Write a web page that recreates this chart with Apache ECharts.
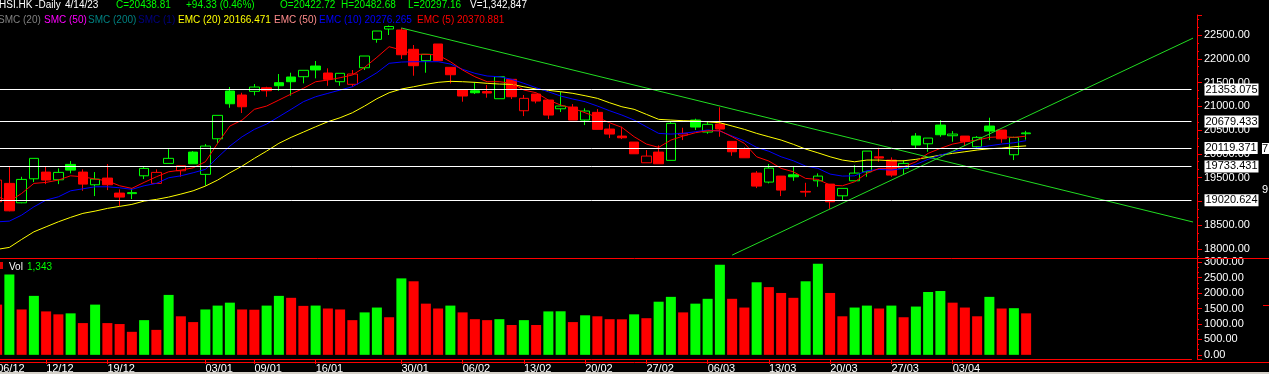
<!DOCTYPE html>
<html>
<head>
<meta charset="utf-8">
<script src="https://cdn.jsdelivr.net/npm/echarts@6/dist/echarts.min.js"></script>
<style>
html,body{margin:0;padding:0;background:#000;overflow:hidden;width:1269px;height:374px;position:relative;}
#c{position:absolute;left:-9px;top:0;width:1278px;height:374px;}
</style>
</head>
<body>
<div id="c"></div>
<script>
// ---------------- data ----------------
const dates = ['06/12','07/12','08/12','09/12','12/12','13/12','14/12','15/12','16/12','19/12','20/12','21/12','22/12','23/12','28/12','29/12','30/12',
  '03/01','04/01','05/01','06/01','09/01','10/01','11/01','12/01','13/01','16/01','17/01','18/01','19/01','20/01','26/01','27/01','30/01','31/01',
  '01/02','02/02','03/02','06/02','07/02','08/02','09/02','10/02','13/02','14/02','15/02','16/02','17/02','20/02','21/02','22/02','23/02','24/02','27/02','28/02',
  '01/03','02/03','03/03','06/03','07/03','08/03','09/03','10/03','13/03','14/03','15/03','16/03','17/03','20/03','21/03','22/03','23/03','24/03','27/03','28/03','29/03','30/03','31/03',
  '03/04','04/04','06/04','11/04','12/04','13/04','14/04'];
const futureSlots = ['+1','+2','+3','+4','+5','+6','+7','+8','+9','+10','+11','+12','+13'];
const labelDates = ['06/12','12/12','19/12','03/01','09/01','16/01','30/01','06/02','13/02','20/02','27/02','06/03','13/03','20/03','27/03','03/04'];

const openP = [18990,19377,18969,19474,19615,19453,19777,19615,19348,19489,19173,19162,19537,19377,19798,19643,20036,19567,20316,21321,21237,21314,21390,21496,21616,21622,21847,21700,21517,21462,21811,22409,22626,22605,22199,21959,22311,21820,21342,21327,21310,21159,21567,20906,21258,21131,20948,20984,20710,20872,20521,20373,20247,19811,20036,19862,20394,20710,20458,20626,20262,20093,19594,19405,19531,19558,19209,19432,19362,19116,19432,19621,19937,19868,19693,20373,20211,20605,20380,20373,20148,20584,20500,19980,20422.72];
const closeP = [19447,18800,19461,19904,19447,19609,19657,19362,19468,19348,19089,19183,19693,19609,19904,19748,19790,20163,20809,21053,20990,21405,21327,21432,21517,21757,21765,21567,21694,21679,22058,22584,22679,22085,21854,22094,21959,21664,21216,21285,21279,21622,21201,21167,21110,20815,21005,20710,20900,20514,20415,20337,20000,19952,19790,20641,20430,20563,20620,20521,20043,19916,19320,19699,19236,19516,19194,19531,18990,19272,19594,20057,19910,19552,19798,20184,20331,20401,20415,20262,20346,20478,20316,20344.48,20438.81];
const highP = [19480,19727,19516,19904,19727,19693,19847,19672,19615,19784,19251,19272,19741,19672,20099,19748,20057,20205,20809,21405,21285,21468,21411,21679,21706,21757,21953,21799,21694,21763,22058,22584,22700,22650,22289,22094,22311,21820,21342,21504,21447,21622,21567,21237,21258,21131,21306,21047,20957,20942,20620,20569,20247,20078,20177,20683,20548,20738,20674,20978,20262,20135,19636,19784,19531,19727,19390,19588,19362,19272,19763,20057,20127,19925,19868,20436,20331,20710,20478,20373,20373,20759,20500,20360,20482.68];
const lowP = [18960,18790,18960,19405,19362,19362,19588,19221,19110,19236,18899,19047,19468,19377,19798,19516,19790,19327,20220,20969,20858,21230,21201,21327,21222,21483,21588,21432,21432,21411,21763,22338,22500,21995,21643,21706,21959,21483,21096,21258,21180,21159,21152,20794,21062,20731,20879,20710,20605,20514,20331,20310,20000,19811,19790,19862,20289,20500,20422,20359,19958,19916,19278,19377,19110,19432,19095,19306,18842,19026,19432,19516,19832,19516,19573,20106,20043,20359,20253,20163,20114,20289,20232,19868,20297.16];
// volume in thousands
const volumeK = [1626,2601,1469,1909,1406,1311,1343,1028,1626,1028,997,745,1123,808,1940,1248,1060,1469,1594,1689,1469,1460,1594,1909,1846,1585,1595,1500,1469,1123,1374,1531,1217,2475,2381,1657,1500,1594,1374,1154,1123,1154,965,1123,965,1406,1410,1060,1280,1248,1154,1150,1311,1186,1720,1877,1374,1657,1814,2915,1814,1531,2349,2192,2003,1846,2381,2947,2003,1248,1531,1594,1500,1594,1217,1563,2035,2066,1689,1531,1248,1877,1500,1510,1342.847];

const ema5 = [19100,19000,19166,19377,19398,19447,19537,19516,19468,19432,19327,19272,19398,19516,19621,19657,19705,19832,20220,20584,20710,20936,21005,21131,21258,21378,21516,21552,21601,21658,21820,22030,22254,22184,22094,22094,22079,21938,21763,21622,21517,21517,21483,21342,21285,21131,21026,20957,20864,20767,20653,20556,20359,20205,20135,20289,20373,20443,20485,20485,20359,20220,19937,19847,19693,19621,19482,19461,19341,19327,19411,19588,19693,19693,19727,19832,20009,20114,20205,20253,20289,20346,20359,20346,20370.881];
const ema10 = [18568,18583,18709,18884,19026,19095,19221,19263,19306,19306,19285,19251,19327,19377,19495,19537,19601,19672,19924,20163,20359,20514,20626,20780,20936,21096,21201,21272,21342,21411,21552,21706,21904,21931,21938,21938,21938,21889,21778,21694,21637,21622,21567,21483,21390,21306,21216,21152,21096,21005,20906,20815,20710,20569,20430,20415,20430,20464,20500,20479,20373,20274,20135,20053,19937,19853,19741,19693,19573,19531,19537,19643,19672,19657,19693,19777,19883,19973,20043,20093,20127,20169,20205,20232,20276.265];
const ema20 = [17988,18030,18198,18358,18464,18569,18662,18746,18794,18851,18893,18935,19005,19040,19089,19152,19221,19320,19447,19601,19741,19904,20057,20220,20346,20457,20569,20675,20759,20864,21005,21159,21285,21363,21411,21462,21504,21525,21517,21504,21483,21468,21462,21411,21363,21336,21306,21272,21222,21167,21074,20990,20936,20830,20725,20710,20696,20689,20674,20653,20584,20514,20430,20359,20289,20199,20099,20021,19937,19868,19832,19868,19868,19853,19853,19883,19924,19973,20009,20043,20079,20106,20120,20148,20166.471];

const levelLines = [21353.075, 20679.433, 20119.371, 19733.431, 19020.624];
// trend lines: [category position, price]
const trendDown = [[33, 22648], [97.82, 18552]];
const trendUp = [[60, 17868], [97.82, 22458]];
const headerDate = '4/14/23';

// ---------------- styling ----------------
const GREEN = '#00ff00', RED = '#ff0000', AXIS = '#ff0000';
const FONT = '"Liberation Sans", Arial, sans-serif';
const SX = 9; // chart canvas starts 9px left of the page
const cats = dates.concat(futureSlots);
const last = closeP.length - 1;

const candleData = closeP.map((c, i) => {
  const up = i > 0 && c > closeP[i - 1];
  const col = up ? GREEN : RED;
  const hollow = c > openP[i];
  return {
    value: [openP[i], c, lowP[i], highP[i]],
    itemStyle: { color: hollow ? '#000' : col, color0: hollow ? '#000' : col, borderColor: col, borderColor0: col, borderWidth: 1 }
  };
});
const volData = volumeK.map((v, i) => ({
  value: v, itemStyle: { color: (i > 0 && v > volumeK[i - 1]) ? GREEN : RED }
}));
const labelSet = new Set(labelDates.map(d => dates.indexOf(d)));

const fmtNum = (n) => Math.round(n).toString().replace(/\B(?=(\d{3})+(?!\d))/g, ',');
const chg = closeP[last] - closeP[last - 1];
const pct = chg / closeP[last - 1] * 100;

function txt(x, y, text, fill, size) {
  return { type: 'text', x: x + SX, y: y, silent: true, z: 100,
    style: { text: text, fill: fill, font: (size || 10) + 'px ' + FONT, verticalAlign: 'top', align: 'left' } };
}
function hline(x1, x2, y) {
  return { type: 'line', silent: true, z: 50, shape: { x1: x1 + SX, y1: y, x2: x2 + SX, y2: y }, style: { stroke: AXIS, lineWidth: 1 } };
}

const bandW = 12.25;
const gridW = bandW * cats.length;
const axisX = 1197 + SX;
const yOff = axisX - gridW;

const chart = echarts.init(document.getElementById('c'), null, { renderer: 'canvas' });
chart.setOption({
  backgroundColor: '#000',
  animation: false,
  grid: [
    { left: 0, top: 15, width: gridW, height: 243 },
    { left: 0, top: 258, width: gridW, height: 104 }
  ],
  xAxis: [
    { gridIndex: 0, type: 'category', data: cats, boundaryGap: true, show: false },
    { gridIndex: 1, type: 'category', data: cats, boundaryGap: true,
      axisLine: { show: true, onZero: false, lineStyle: { color: AXIS } },
      axisTick: { show: true, alignWithLabel: true, length: 5, interval: (i) => labelSet.has(i), lineStyle: { color: AXIS } },
      axisLabel: { show: true, interval: (i) => labelSet.has(i), color: '#fff', fontFamily: FONT, fontSize: 11, align: 'left', margin: 4 },
      splitLine: { show: false } },
    { gridIndex: 0, type: 'value', min: -0.5, max: cats.length - 0.5, show: false }
  ],
  yAxis: [
    { gridIndex: 0, type: 'value', position: 'right', offset: yOff, min: 17807, max: 22921,
      splitNumber: 10, minInterval: 500, maxInterval: 500,
      axisLine: { show: true, onZero: false, lineStyle: { color: AXIS } },
      axisTick: { show: true, length: 5, lineStyle: { color: AXIS } },
      minorTick: { show: true, splitNumber: 3, length: 2, lineStyle: { color: AXIS } },
      axisLabel: { color: '#fff', fontFamily: FONT, fontSize: 11, margin: 7,
        formatter: (v) => (Math.abs(v % 500) < 1e-6 ? v.toFixed(2) : '') },
      splitLine: { show: false } },
    { gridIndex: 1, type: 'value', position: 'right', offset: yOff, min: -135, max: 3135,
      splitNumber: 6, minInterval: 500, maxInterval: 500,
      axisLine: { show: true, onZero: false, lineStyle: { color: AXIS } },
      axisTick: { show: true, length: 5, lineStyle: { color: AXIS } },
      minorTick: { show: true, splitNumber: 3, length: 2, lineStyle: { color: AXIS } },
      axisLabel: { color: '#fff', fontFamily: FONT, fontSize: 11, margin: 7,
        formatter: (v) => (v >= 0 && Math.abs(v % 500) < 1e-6 ? v.toFixed(2) : '') },
      splitLine: { show: false } }
  ],
  series: [
    { type: 'candlestick', name: 'HSI', xAxisIndex: 0, yAxisIndex: 0, barWidth: 10, data: candleData,
      markLine: {
        silent: true, symbol: ['none', 'none'], animation: false, z: 6, precision: 3,
        lineStyle: { color: '#fff', width: 1, type: 'solid' },
        label: { show: true, position: 'end', distance: 13, color: '#000', backgroundColor: '#fff',
          fontFamily: FONT, fontSize: 11, padding: [1, 1, 0, 1], formatter: (p) => Number(p.value).toFixed(3) },
        emphasis: { disabled: true },
        data: levelLines.map(v => ({ yAxis: v })).concat([
          { yAxis: closeP[last], lineStyle: { opacity: 0 },
            label: { backgroundColor: '#0000ff', color: GREEN, distance: 12, formatter: (p) => Number(p.value).toFixed(2) } }
        ])
      } },
    { type: 'line', name: 'EMC (20)', xAxisIndex: 0, yAxisIndex: 0, data: ema20, symbol: 'none', lineStyle: { color: '#ffff00', width: 1 }, silent: true },
    { type: 'line', name: 'EMC (10)', xAxisIndex: 0, yAxisIndex: 0, data: ema10, symbol: 'none', lineStyle: { color: '#0000ff', width: 1 }, silent: true },
    { type: 'line', name: 'EMC (5)', xAxisIndex: 0, yAxisIndex: 0, data: ema5, symbol: 'none', lineStyle: { color: '#ff0000', width: 1 }, silent: true },
    { type: 'line', name: 'trendDown', xAxisIndex: 2, yAxisIndex: 0, data: trendDown, symbol: 'none', clip: false, lineStyle: { color: '#22dd22', width: 1 }, silent: true, z: 4 },
    { type: 'line', name: 'trendUp', xAxisIndex: 2, yAxisIndex: 0, data: trendUp, symbol: 'none', clip: false, lineStyle: { color: '#22dd22', width: 1 }, silent: true, z: 4 },
    { type: 'bar', name: 'Vol', xAxisIndex: 1, yAxisIndex: 1, barWidth: 10, data: volData, silent: true }
  ],
  graphic: [
    hline(0, 1269, 258.5),
    hline(0, 1269, 362.5),
    hline(1263, 1269, 305.5),
    { type: 'rect', silent: true, z: 50, shape: { x: SX, y: 372, width: 1269, height: 2 }, style: { fill: '#d4d0c8' } },
    { type: 'rect', silent: true, z: 60, shape: { x: 1262 + SX, y: 143, width: 8, height: 11 }, style: { fill: '#fff' } },
    txt(1262, 143, '7', '#000', 11),
    txt(1262, 184, '9', '#fff', 11),
    txt(-1, 0.5, 'HSI.HK -Daily', '#fff'),
    txt(65, 0.5, headerDate, '#fff'),
    txt(116, 0.5, 'C=' + closeP[last].toFixed(2), GREEN),
    txt(186, 0.5, (chg >= 0 ? '+' : '') + chg.toFixed(2) + ' (' + pct.toFixed(2) + '%)', GREEN),
    txt(280, 0.5, 'O=' + openP[last].toFixed(2), GREEN),
    txt(341, 0.5, 'H=' + highP[last].toFixed(2), GREEN),
    txt(408, 0.5, 'L=' + lowP[last].toFixed(2), GREEN),
    txt(470, 0.5, 'V=' + fmtNum(volumeK[last] * 1000), '#fff'),
    txt(-2, 15.5, 'SMC (20)', '#808080'),
    txt(44, 15.5, 'SMC (50)', '#ff00ff'),
    txt(88, 15.5, 'SMC (200)', '#008080'),
    txt(138, 15.5, 'SMC (1)', '#000080'),
    txt(178, 15.5, 'EMC (20) ' + ema20[last].toFixed(3), '#ffff00'),
    txt(274, 15.5, 'EMC (50)', '#ff8c8c'),
    txt(319, 15.5, 'EMC (10) ' + ema10[last].toFixed(3), '#0000ff'),
    txt(417, 15.5, 'EMC (5) ' + ema5[last].toFixed(3), '#ff0000'),
    { type: 'rect', silent: true, z: 100, shape: { x: -3 + SX, y: 262, width: 6, height: 7 }, style: { fill: '#e00000' } },
    txt(9, 262.5, 'Vol', '#fff'),
    txt(27, 262.5, fmtNum(volumeK[last]), GREEN)
  ]
});
</script>
</body>
</html>
